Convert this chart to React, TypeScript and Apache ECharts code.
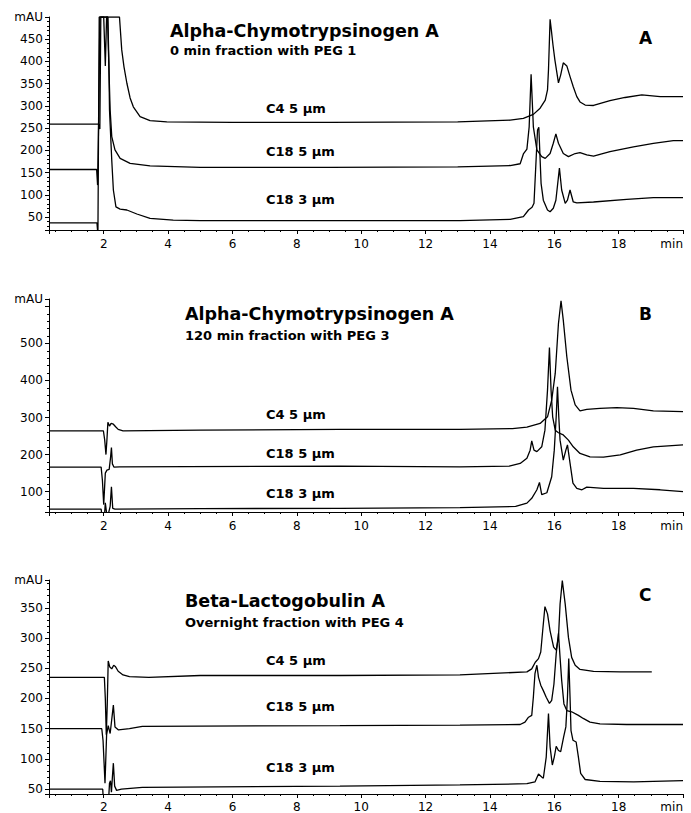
import React, { useEffect, useRef } from "react";
import * as echarts from "echarts";

const FONT = "'DejaVu Sans', 'Liberation Sans', sans-serif";

// ---- tick labels ----
const X_MIN = 0.3;
const X_MAX = 20;
const xTickLabels = [2, 4, 6, 8, 10, 12, 14, 16, 18];
const yTicksA = [50, 100, 150, 200, 250, 300, 350, 400, 450];
const yTicksB = [100, 200, 300, 400, 500];
const yTicksC = [50, 100, 150, 200, 250, 300, 350];
const yRangeA = [21, 500];
const yRangeB = [45, 620];
const yRangeC = [42, 396];

// ---- texts ----
const titles = ["Alpha-Chymotrypsinogen A", "Alpha-Chymotrypsinogen A", "Beta-Lactogobulin A"];
const subtitles = ["0 min fraction with PEG 1", "120 min fraction with PEG 3", "Overnight fraction with PEG 4"];
const panelLetters = ["A", "B", "C"];
const curveLabels = ["C4 5 µm", "C18 5 µm", "C18 3 µm"];

// ---- Panel A: [time (min), absorbance (mAU)] ----
const aC4 = [
  [0.3, 259], [1.0, 259], [1.84, 259], [1.88, 248], [1.91, 500], [2.49, 500], [2.56, 426], [2.63, 388],
  [2.72, 351], [2.82, 318], [2.92, 298], [3.13, 276], [3.44, 267], [3.96, 264], [6, 263], [9, 263],
  [13, 264], [14.63, 268], [15.04, 272], [15.35, 281], [15.56, 295], [15.72, 313], [15.79, 336],
  [15.82, 381], [15.87, 495], [15.91, 470], [15.96, 437], [16.02, 403], [16.13, 352], [16.2, 370],
  [16.28, 397], [16.39, 390], [16.49, 366], [16.59, 343], [16.7, 321], [16.8, 309], [16.96, 302],
  [17.22, 301], [17.73, 312], [18.2, 319], [18.72, 325], [19.29, 321], [20, 321],
];
const aC18_5 = [
  [0.3, 157], [1.0, 157], [1.78, 157], [1.81, 122], [1.85, 300], [1.88, 500], [2.12, 500], [2.14, 440],
  [2.2, 291], [2.25, 231], [2.35, 201], [2.51, 182], [2.82, 171], [3.44, 165], [5, 162], [9, 162],
  [13, 163], [14.63, 166], [14.94, 170], [15.04, 192], [15.15, 203], [15.22, 253], [15.28, 371],
  [15.35, 253], [15.46, 201], [15.61, 186], [15.72, 182], [15.87, 193], [15.97, 216], [16.05, 237],
  [16.13, 216], [16.28, 193], [16.44, 186], [16.65, 193], [16.8, 195], [17.01, 190], [17.22, 187],
  [17.73, 197], [18.46, 208], [19.08, 216], [19.7, 222], [20, 222],
];
const aC18_3 = [
  [0.3, 37], [1.0, 37], [1.79, 37], [1.82, 10], [1.86, 500], [2.0, 500], [2.05, 390], [2.09, 500],
  [2.13, 500], [2.16, 400], [2.18, 291], [2.25, 178], [2.3, 111], [2.38, 73], [2.51, 68], [2.72, 66],
  [3.03, 57], [3.44, 47], [4.16, 43], [5, 42], [9, 42], [13.07, 42], [14.63, 45], [15.04, 51],
  [15.2, 66], [15.31, 72], [15.37, 81], [15.48, 246], [15.52, 252], [15.59, 126], [15.66, 88],
  [15.79, 66], [15.87, 62], [15.97, 70], [16.05, 88], [16.16, 160], [16.23, 111], [16.34, 81],
  [16.41, 88], [16.49, 111], [16.59, 84], [16.7, 82], [17.22, 84], [18.25, 90], [19.08, 94], [20, 94],
];

// ---- Panel B ----
const bC4 = [
  [0.3, 264], [1.0, 264], [1.99, 264], [2.03, 240], [2.07, 200], [2.1, 240], [2.13, 287], [2.18, 277],
  [2.23, 284], [2.3, 282], [2.37, 275], [2.45, 268], [2.6, 264], [5, 266], [9.34, 268], [13.07, 268],
  [14.7, 270], [15.15, 274], [15.56, 284], [15.79, 302], [15.92, 347], [16.03, 419], [16.13, 554],
  [16.21, 615], [16.28, 563], [16.39, 464], [16.52, 374], [16.65, 334], [16.8, 318], [17.01, 322],
  [17.42, 325], [17.94, 327], [18.46, 325], [19.08, 318], [20, 316],
];
const bC18_5 = [
  [0.3, 166], [1.0, 166], [1.92, 166], [1.96, 130], [2.0, 65], [2.05, 150], [2.1, 158], [2.17, 160],
  [2.21, 190], [2.24, 219], [2.27, 175], [2.32, 166], [2.5, 167], [9.34, 169], [13.07, 167],
  [14.6, 169], [14.94, 176], [15.15, 190], [15.25, 212], [15.3, 237], [15.37, 212], [15.46, 208],
  [15.61, 221], [15.71, 266], [15.79, 374], [15.85, 489], [15.9, 374], [15.95, 302], [16.03, 266],
  [16.13, 259], [16.28, 253], [16.44, 239], [16.59, 221], [16.8, 203], [17.11, 194], [17.53, 193],
  [18.05, 199], [18.56, 212], [19.08, 221], [20, 226],
];
const bC18_3 = [
  [0.3, 53], [1.0, 53], [1.92, 53], [1.95, 30], [2.02, 30], [2.05, 70], [2.09, 42], [2.15, 42],
  [2.2, 60], [2.24, 113], [2.28, 55], [2.35, 53], [5, 54], [9.34, 55], [13.07, 57], [14.8, 60],
  [15.15, 69], [15.3, 82], [15.46, 105], [15.54, 125], [15.61, 92], [15.77, 97], [15.92, 140],
  [16.0, 212], [16.06, 302], [16.1, 383], [16.14, 302], [16.18, 239], [16.28, 185], [16.36, 212],
  [16.41, 226], [16.49, 177], [16.58, 123], [16.7, 109], [16.86, 105], [17.01, 112], [17.53, 109],
  [18.46, 109], [19.29, 105], [20, 100],
];

// ---- Panel C ----
const cC4 = [
  [0.3, 235], [1.0, 235], [2.02, 235], [2.05, 200], [2.08, 140], [2.11, 190], [2.14, 262], [2.19, 252],
  [2.25, 249], [2.31, 255], [2.36, 253], [2.45, 245], [2.6, 239], [2.8, 236], [3.4, 235], [5, 238],
  [9.34, 238], [13.07, 239], [15.15, 244], [15.3, 249], [15.41, 260], [15.51, 266], [15.58, 277],
  [15.64, 312], [15.71, 352], [15.79, 340], [15.87, 312], [15.98, 285], [16.06, 280], [16.13, 301],
  [16.18, 356], [16.25, 395], [16.34, 356], [16.44, 301], [16.54, 268], [16.65, 255], [16.8, 248],
  [17.22, 245], [18.05, 244], [19.03, 244],
];
const cC18_5 = [
  [0.3, 150], [1.0, 150], [1.94, 150], [1.98, 130], [2.04, 60], [2.09, 140], [2.14, 155], [2.2, 142],
  [2.3, 189], [2.35, 153], [2.46, 148], [2.8, 150], [3.2, 154], [9.34, 155], [13.07, 156],
  [14.94, 157], [15.09, 161], [15.2, 169], [15.3, 172], [15.35, 202], [15.4, 241], [15.46, 255],
  [15.51, 235], [15.58, 222], [15.66, 213], [15.75, 202], [15.85, 192], [15.92, 197], [15.99, 224],
  [16.06, 274], [16.13, 308], [16.18, 268], [16.23, 230], [16.3, 191], [16.39, 180], [16.54, 178],
  [16.75, 172], [16.9, 167], [17.11, 161], [17.42, 158], [18.25, 157], [20, 157],
];
const cC18_3 = [
  [0.3, 50], [1.0, 50], [1.97, 50], [1.99, 30], [2.15, 30], [2.18, 60], [2.21, 64], [2.24, 45],
  [2.27, 70], [2.3, 93], [2.34, 55], [2.4, 48], [2.55, 50], [3.2, 53], [9.34, 55], [13.07, 57],
  [15.15, 59], [15.4, 62], [15.51, 75], [15.61, 70], [15.66, 68], [15.75, 103], [15.82, 175],
  [15.87, 120], [15.94, 90], [16.0, 103], [16.06, 121], [16.13, 114], [16.2, 112], [16.29, 136],
  [16.36, 153], [16.41, 202], [16.45, 266], [16.49, 202], [16.52, 147], [16.58, 131], [16.68, 128],
  [16.75, 103], [16.82, 76], [16.96, 66], [17.42, 63], [18.47, 62], [20, 64],
];

const panelSeries = [
  [aC4, aC18_5, aC18_3],
  [bC4, bC18_5, bC18_3],
  [cC4, cC18_5, cC18_3],
];
const yTicks = [yTicksA, yTicksB, yTicksC];
const yRanges = [yRangeA, yRangeB, yRangeC];
const ySplit = [10, 5, 7];

// layout (pixels)
const grids = [
  { left: 49, right: 8, top: 17, height: 213 },
  { left: 49, right: 8, top: 299, height: 213 },
  { left: 49, right: 8, top: 580, height: 214 },
];
const titlePos = [
  { tx: 170, ty: 31, sy: 50, ly: 38, cl: [108, 151, 199] },
  { tx: 185, ty: 314, sy: 335, ly: 314, cl: [414, 453, 493] },
  { tx: 185, ty: 601, sy: 622, ly: 595, cl: [660, 706, 767] },
];
const xLabelMargin = [8, 8, 7];

export default function App() {
  const ref = useRef<HTMLDivElement>(null);
  useEffect(() => {
    if (!ref.current) return;
    const chart = echarts.init(ref.current, null, { renderer: "svg" });
    const black = "#000";
    const xAxis = grids.map((_, i) => ({
      type: "value",
      gridIndex: i,
      min: X_MIN,
      max: X_MAX,
      splitNumber: 10,
      axisLine: { show: true, lineStyle: { color: black, width: 1 } },
      axisTick: { show: true, length: 4, lineStyle: { color: black, width: 1 } },
      minorTick: { show: true, splitNumber: 4, length: 2, lineStyle: { color: black, width: 1 } },
      splitLine: { show: false },
      axisLabel: {
        color: black,
        fontFamily: FONT,
        fontSize: 12,
        margin: xLabelMargin[i],
        showMaxLabel: true,
        alignMaxLabel: "right",
        formatter: (v: number) => (v === X_MAX ? "min" : xTickLabels.includes(v) ? String(v) : ""),
      },
    }));
    const yAxis = grids.map((_, i) => ({
      type: "value",
      gridIndex: i,
      min: yRanges[i][0],
      max: yRanges[i][1],
      splitNumber: ySplit[i],
      axisLine: { show: true, lineStyle: { color: black, width: 1 } },
      axisTick: { show: true, length: 4, lineStyle: { color: black, width: 1 } },
      minorTick: { show: true, splitNumber: 5, length: 2, lineStyle: { color: black, width: 1 } },
      splitLine: { show: false },
      axisLabel: {
        color: black,
        fontFamily: FONT,
        fontSize: 12,
        margin: 6,
        showMaxLabel: true,
        formatter: (v: number) => (v === yRanges[i][1] ? "mAU" : yTicks[i].includes(v) ? String(v) : ""),
      },
    }));
    const series: any[] = [];
    panelSeries.forEach((group, i) => {
      group.forEach((data) => {
        series.push({
          type: "line",
          xAxisIndex: i,
          yAxisIndex: i,
          data,
          showSymbol: false,
          symbol: "none",
          clip: true,
          lineStyle: { color: black, width: 1.3 },
          silent: true,
        });
      });
    });
    const txt = (text: string, x: number, y: number, size: number) => ({
      type: "text",
      x,
      y,
      silent: true,
      style: {
        text,
        fill: black,
        fontFamily: FONT,
        fontSize: size,
        fontWeight: "bold",
        align: "left",
        verticalAlign: "middle",
      },
    });
    const graphic: any[] = [];
    titlePos.forEach((p, i) => {
      graphic.push(txt(titles[i], p.tx, p.ty, 17.5));
      graphic.push(txt(subtitles[i], p.tx, p.sy, 13));
      graphic.push(txt(panelLetters[i], 639, p.ly, 17));
      curveLabels.forEach((c, k) => graphic.push(txt(c, 266, p.cl[k], 13)));
    });
    chart.setOption({
      animation: false,
      backgroundColor: "#fff",
      grid: grids,
      xAxis,
      yAxis,
      series,
      graphic,
    });
    return () => chart.dispose();
  }, []);
  return (
    <div
      ref={ref}
      style={{ position: "fixed", left: 0, top: 0, width: 691, height: 813, background: "#fff" }}
    />
  );
}
